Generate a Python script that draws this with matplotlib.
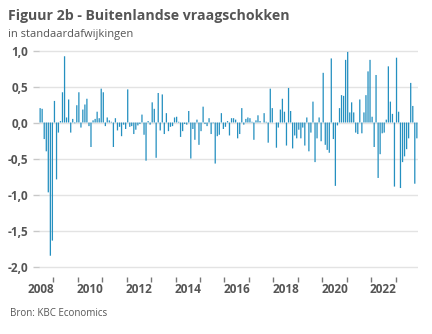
import datetime as dt
import matplotlib
matplotlib.use("Agg")
import matplotlib.pyplot as plt
import matplotlib.dates as mdates
import pandas as pd

# maandelijkse schokken, juni 2008 - november 2023
start_month = "2008-06-01"
values = [
    0.20, 0.19, -0.23, -0.40, -0.97, -1.85, -1.64,
    0.30, -0.79, -0.14, 0.02, 0.42, 0.92, 0.07, 0.32, -0.14, 0.05, -0.01, 0.24,
    0.42, -0.07, 0.18, 0.25, 0.33, -0.05, -0.34, 0.03, 0.05, 0.15, 0.06, 0.47,
    0.42, -0.05, 0.07, 0.03, 0.01, -0.34, 0.06, -0.11, -0.06, -0.19, -0.03, -0.09,
    0.46, -0.06, -0.05, -0.16, -0.10, -0.04, -0.02, 0.11, -0.17, -0.53, 0.02, -0.03,
    0.28, 0.19, -0.49, 0.41, -0.11, 0.39, -0.16, 0.13, -0.12, -0.06, -0.05, 0.07,
    0.08, 0.01, -0.20, -0.12, -0.02, -0.03, 0.16, -0.50, -0.09, -0.24, 0.04, -0.31,
    -0.12, 0.22, -0.02, -0.05, 0.06, -0.16, -0.01, -0.57, -0.19, -0.17, 0.13, -0.09,
    -0.06, 0.02, -0.18, 0.06, 0.06, 0.04, -0.22, -0.16, 0.20, -0.03, 0.05, 0.07,
    0.06, 0.01, -0.24, 0.03, 0.10, 0.02, 0.00, 0.13, 0.01, -0.28, 0.47, 0.20,
    0.00, -0.35, -0.07, 0.18, 0.33, 0.15, -0.32, 0.48, 0.16, -0.36, -0.18, -0.22,
    -0.10, -0.22, -0.07, -0.32, 0.07, -0.40, -0.14, 0.29, -0.55, -0.22, 0.07, -0.26,
    0.69, -0.31, -0.38, -0.42, 0.89, -0.23, -0.88, -0.04, 0.20, 0.38, 0.37, 0.87,
    0.98, 0.14, 0.28, 0.14, -0.14, -0.16, 0.32, -0.15, 0.14, 0.38, 0.71, 0.87,
    0.08, -0.34, 0.66, -0.77, -0.44, -0.15, -0.14, 0.04, 0.78, 0.29, 0.12, -0.89,
    0.90, 0.15, -0.91, -0.55, -0.47, -0.37, -0.22, 0.55, 0.23, -0.85, -0.22,
]
y_ticks = [-2.0, -1.5, -1.0, -0.5, 0.0, 0.5, 1.0]
year_labels = [2008, 2010, 2012, 2014, 2016, 2018, 2020, 2022]

months = pd.date_range(start_month, periods=len(values), freq="MS")
x = months + pd.Timedelta(days=15)

grey = "#555555"
bar_color = "#2590c0"
font = "Open Sans"

fig = plt.figure(figsize=(4.32, 3.34), dpi=100)
ax = fig.add_axes([38.8 / 432, 1 - 276.6 / 334, 379.2 / 432, 229.7 / 334])

bars = ax.bar(x, values, width=19, color=bar_color, linewidth=0, zorder=3)
for b in bars:
    b.set_snap(False)

ax.set_xlim(dt.datetime(2008, 5, 27), dt.datetime(2023, 12, 3))
ax.set_ylim(-2.14, 1.05)

for s in ax.spines.values():
    s.set_visible(False)

ax.set_yticks(y_ticks)
ax.set_yticklabels([f"{v:.1f}".replace(".", ",") for v in y_ticks],
                   fontfamily=font, fontweight="bold", fontsize=8.5, color=grey)
ax.yaxis.grid(True, color="#e3e3e3", linewidth=1, zorder=0)
ax.tick_params(axis="y", length=4, width=1, color="#c8c8c8", pad=3.5)

# jaarstreepjes en labels midden in het jaar
ax.xaxis.set_major_locator(mdates.YearLocator(1))
ax.xaxis.set_major_formatter(plt.NullFormatter())
ax.set_xticks([dt.datetime(y, 7, 2) for y in year_labels], minor=True)
ax.set_xticklabels([str(y) for y in year_labels], minor=True,
                   fontfamily=font, fontweight="bold", fontsize=8.5, color=grey)
ax.tick_params(axis="x", which="major", length=3.5, width=1, color="#777777", direction="out")
ax.tick_params(axis="x", which="minor", length=0, pad=4.5)

fig.text(8 / 432, 1 - 16 / 334, "Figuur 2b - Buitenlandse vraagschokken",
         fontfamily=font, fontweight="bold", fontsize=10.2, color=grey, va="center")
fig.text(8 / 432, 1 - 34 / 334, "in standaardafwijkingen",
         fontfamily=font, fontsize=8, color=grey, va="center")
fig.text(10 / 432, 1 - 314 / 334, "Bron: KBC Economics",
         fontfamily=font, fontsize=7, color=grey, va="center")

fig.savefig("out.png", dpi=100)
